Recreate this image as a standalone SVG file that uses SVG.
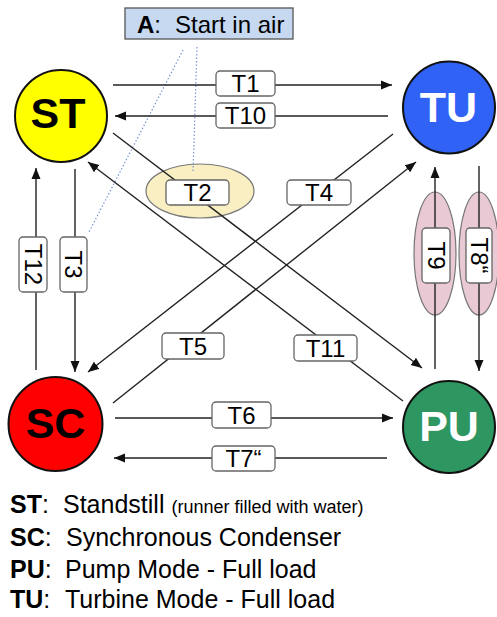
<svg xmlns="http://www.w3.org/2000/svg" width="497" height="617" viewBox="0 0 497 617">
<defs>
<marker id="arr" markerWidth="12" markerHeight="10" refX="11" refY="5" orient="auto" markerUnits="userSpaceOnUse">
<path d="M0,0.5 L11,5 L0,9.5 z" fill="#111"/>
</marker>
<style>
.ln{stroke:#222;stroke-width:1.4;fill:none}
.dot{stroke:#7a94d6;stroke-width:1.2;stroke-dasharray:1.5,2;fill:none}
.lb{fill:#fff;stroke:#666;stroke-width:1.3}
.lt{font-family:"Liberation Sans",Arial,sans-serif;font-size:24px;fill:#000;text-anchor:middle}
.nt{font-family:"Liberation Sans",Arial,sans-serif;font-size:43px;font-weight:bold;text-anchor:middle}
.node{stroke:#111;stroke-width:2}
.leg{font-family:"Liberation Sans",Arial,sans-serif;font-size:25px;fill:#000}
</style>
</defs>
<rect width="497" height="617" fill="#fff"/>

<g id="noteA">
<rect x="125" y="8" width="168" height="31" fill="#c6d9f0" stroke="#555" stroke-width="1.3"/>
<text x="137" y="33" class="leg" style="font-size:24px"><tspan font-weight="bold">A</tspan>:</text>
<text x="175" y="33" class="leg" style="font-size:24px">Start in air</text>
</g>

<g id="highlights">
<ellipse cx="200" cy="191" rx="54" ry="27" fill="#faefc2" stroke="#777" stroke-width="1.2"/>
<ellipse cx="435" cy="253.5" rx="21" ry="61.5" fill="#e8c9d4" stroke="#777" stroke-width="1.2"/>
<ellipse cx="479" cy="253.5" rx="20" ry="61.5" fill="#e8c9d4" stroke="#777" stroke-width="1.2"/>
</g>

<g id="connectors">
<line class="dot" x1="183" y1="50" x2="89" y2="232"/>
<line class="dot" x1="197" y1="47" x2="193" y2="173"/>
<line class="ln" x1="113" y1="85" x2="392" y2="85" marker-end="url(#arr)"/>
<line class="ln" x1="388" y1="116" x2="115" y2="116" marker-end="url(#arr)"/>
<line class="ln" x1="113" y1="133" x2="422" y2="368" marker-end="url(#arr)"/>
<line class="ln" x1="403" y1="401" x2="88" y2="162" marker-end="url(#arr)"/>
<line class="ln" x1="393" y1="134" x2="88" y2="372" marker-end="url(#arr)"/>
<line class="ln" x1="113" y1="403" x2="416" y2="162" marker-end="url(#arr)"/>
<line class="ln" x1="36" y1="370" x2="36" y2="168" marker-end="url(#arr)"/>
<line class="ln" x1="75" y1="169" x2="75" y2="372" marker-end="url(#arr)"/>
<line class="ln" x1="435" y1="369" x2="435" y2="167" marker-end="url(#arr)"/>
<line class="ln" x1="479" y1="166" x2="479" y2="371" marker-end="url(#arr)"/>
<line class="ln" x1="115" y1="418" x2="393" y2="418" marker-end="url(#arr)"/>
<line class="ln" x1="387" y1="458" x2="114" y2="458" marker-end="url(#arr)"/>
</g>

<g id="labels">
<g id="T1"><rect class="lb" x="216" y="71" width="59" height="25" rx="4"/><text class="lt" x="245.5" y="92">T1</text></g>
<g id="T10"><rect class="lb" x="216" y="103" width="59" height="25" rx="4"/><text class="lt" x="245.5" y="124">T10</text></g>
<g id="T2"><rect class="lb" x="166" y="180" width="63" height="25" rx="4"/><text class="lt" x="197.5" y="201">T2</text></g>
<g id="T4"><rect class="lb" x="287" y="180" width="64" height="25" rx="4"/><text class="lt" x="319" y="201">T4</text></g>
<g id="T5"><rect class="lb" x="162" y="333" width="62" height="26" rx="4"/><text class="lt" x="193" y="354.5">T5</text></g>
<g id="T11"><rect class="lb" x="294" y="335" width="63" height="26" rx="4"/><text class="lt" x="325.5" y="356.5">T11</text></g>
<g id="T6"><rect class="lb" x="212" y="402" width="59" height="26" rx="4"/><text class="lt" x="241.5" y="423.5">T6</text></g>
<g id="T7"><rect class="lb" x="212" y="446" width="63" height="25" rx="4"/><text class="lt" x="243.5" y="467">T7“</text></g>
<g id="T12"><rect class="lb" x="19" y="237" width="28" height="55" rx="4"/><text class="lt" transform="translate(24.5,264.5) rotate(90)">T12</text></g>
<g id="T3"><rect class="lb" x="60" y="237" width="27" height="55" rx="4"/><text class="lt" transform="translate(65,264.5) rotate(90)">T3</text></g>
<g id="T9"><rect class="lb" x="422" y="228" width="28" height="55" rx="4"/><text class="lt" transform="translate(427.5,255.5) rotate(90)">T9</text></g>
<g id="T8"><rect class="lb" x="466" y="228" width="26" height="55" rx="4"/><text class="lt" transform="translate(470.5,255.5) rotate(90)">T8“</text></g>
</g>

<g id="ST"><circle class="node" cx="61" cy="116" r="46" fill="#ffff00"/><text class="nt" x="58" y="128" fill="#000">ST</text></g>
<g id="TU"><circle class="node" cx="449" cy="107.5" r="46" fill="#2f62f5"/><text class="nt" x="448.5" y="122" fill="#fff">TU</text></g>
<g id="SC"><circle class="node" cx="55.5" cy="424" r="47" fill="#ff0000"/><text class="nt" x="55.5" y="438" fill="#000">SC</text></g>
<g id="PU"><circle class="node" cx="449" cy="427" r="46" fill="#2e9660"/><text class="nt" x="449" y="441" fill="#fff">PU</text></g>

<g id="legend">
<text class="leg" x="10" y="513"><tspan font-weight="bold">ST</tspan>:</text>
<text class="leg" x="63" y="513">Standstill <tspan style="font-size:18px">(runner filled with water)</tspan></text>
<text class="leg" x="10" y="546"><tspan font-weight="bold">SC</tspan>:</text>
<text class="leg" x="66" y="546">Synchronous Condenser</text>
<text class="leg" x="10" y="578"><tspan font-weight="bold">PU</tspan>:</text>
<text class="leg" x="65" y="578">Pump Mode - Full load</text>
<text class="leg" x="10" y="608"><tspan font-weight="bold">TU</tspan>:</text>
<text class="leg" x="65" y="608">Turbine Mode - Full load</text>
</g>
</svg>
